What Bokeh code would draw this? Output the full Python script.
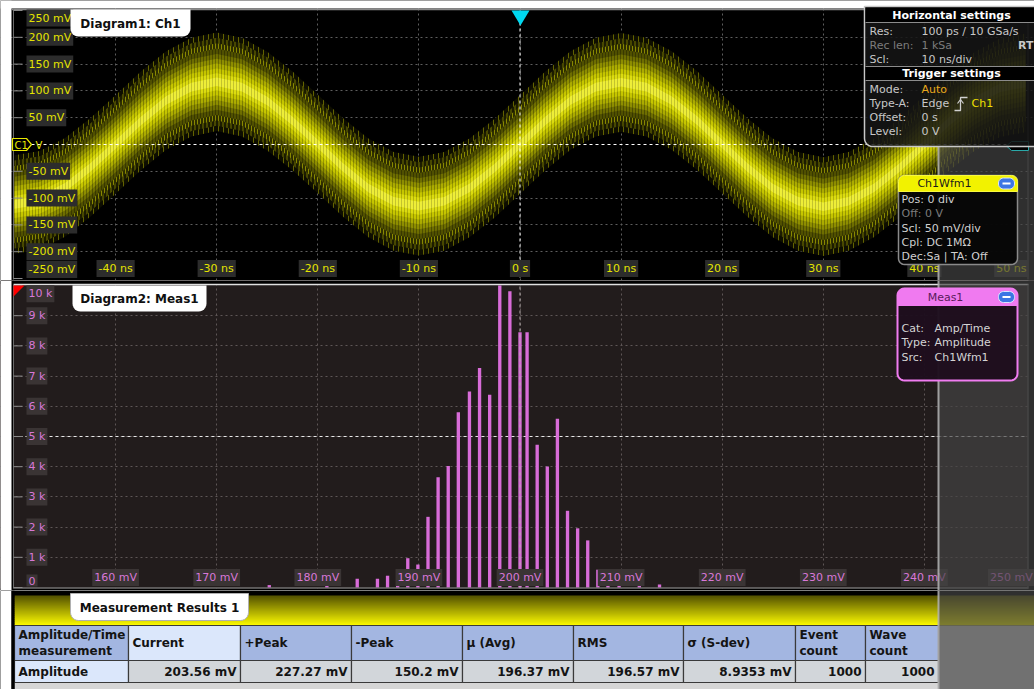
import math
from bokeh.plotting import figure
from bokeh.models import Range1d, Grid, FixedTicker
from bokeh.layouts import column
from bokeh.core.properties import value
from bokeh.embed import file_html
from bokeh.resources import INLINE

# ---------------- data ----------------
wave_t_ns = [-50, -47.5, -45, -42.5, -40, -37.5, -35, -32.5, -30, -27.5,
             -25, -22.5, -20, -17.5, -15, -12.5, -10, -7.5, -5, -2.5,
             0, 2.5, 5, 7.5, 10, 12.5, 15, 17.5, 20, 22.5,
             25, 27.5, 30, 32.5, 35, 37.5, 40, 42.5, 45, 47.5, 50]
wave_center_mv = [-112, -104, -80, -43, 0, 44, 82, 107, 117, 107,
                  81, 44, 1, -43, -81, -106, -115, -106, -81, -44,
                  0, 44, 82, 107, 116, 107, 82, 45, 1, -43,
                  -81, -106, -116, -106, -81, -44, 0, 44, 81, 106, 115]
# half widths of the persistence band: outer spikes ... bright core
wave_spread_mv = [92, 82, 72, 62, 52, 43, 34, 25, 16, 8]

time_ticks_ns = [-40, -30, -20, -10, 0, 10, 20, 30, 40, 50]
time_tick_labels = ["-40 ns", "-30 ns", "-20 ns", "-10 ns", "0 s",
                    "10 ns", "20 ns", "30 ns", "40 ns", "50 ns"]
volt_ticks_mv = [250, 200, 150, 100, 50, -50, -100, -150, -200, -250]
volt_tick_labels = ["250 mV", "200 mV", "150 mV", "100 mV", "50 mV",
                    "-50 mV", "-100 mV", "-150 mV", "-200 mV", "-250 mV"]

hist_mv = [175.2, 180.9, 183.9, 185.9, 186.9, 187.9, 188.9, 189.9, 190.9, 191.9,
           192.9, 193.9, 195.0, 196.0, 197.0, 198.0, 199.0, 200.0, 200.7, 201.7,
           202.7, 203.7, 204.7, 205.7, 206.7, 207.7, 208.7, 209.8, 211.8, 213.8]
hist_count = [80, 60, 290, 290, 390, 290, 970, 760, 2340, 3650,
              4020, 5800, 6490, 7270, 6380, 10000, 9810, 8450, 8450, 4730,
              4010, 5590, 2540, 1960, 1560, 590, 230, 170, 170, 100]
hist_x_ticks_mv = [160, 170, 180, 190, 200, 210, 220, 230, 240, 250]
hist_x_labels = ["160 mV", "170 mV", "180 mV", "190 mV", "200 mV",
                 "210 mV", "220 mV", "230 mV", "240 mV", "250 mV"]
hist_y_ticks = [10000, 9000, 8000, 7000, 6000, 5000, 4000, 3000, 2000, 1000, 0]
hist_y_labels = ["10 k", "9 k", "8 k", "7 k", "6 k", "5 k", "4 k", "3 k", "2 k", "1 k", "0"]

table_headers = ["Amplitude/Time\nmeasurement", "Current", "+Peak", "-Peak", "\u03bc (Avg)",
                 "RMS", "\u03c3 (S-dev)", "Event\ncount", "Wave\ncount"]
table_values = ["Amplitude", "203.56 mV", "227.27 mV", "150.2 mV", "196.37 mV",
                "196.57 mV", "8.9353 mV", "1000", "1000"]

horiz_rows = [("Res:", "100 ps / 10 GSa/s"), ("Rec len:", "1 kSa"), ("Scl:", "10 ns/div")]
trig_rows = [("Mode:", "Auto"), ("Type-A:", "Edge"), ("Offset:", "0 s"), ("Level:", "0 V")]
wfm_rows = ["Pos: 0 div", "Off: 0 V", "Scl: 50 mV/div", "Cpl: DC 1M\u03a9", "Dec:Sa | TA: Off"]
meas_rows = [("Cat:", "Amp/Time"), ("Type:", "Amplitude"), ("Src:", "Ch1Wfm1")]

# ---------------- layout constants ----------------
FONT = value("DejaVu Sans")
W = 1034
H1, H2, H3 = 280, 310, 99
TOP1, TOP2, TOP3 = 0, 280, 590
LEFT = 0


def make_fig(h, xr, yr, bg):
    p = figure(width=W, height=h, x_range=xr, y_range=yr, output_backend="svg",
               toolbar_location=None, x_axis_location=None, y_axis_location=None,
               min_border=0, background_fill_color=bg, border_fill_color=bg,
               outline_line_color=None)
    p.grid.visible = False
    p.extra_x_ranges = {"px": Range1d(0, W)}
    p.extra_y_ranges = {"px": Range1d(h, 0)}
    return p


def T(p, top, x, y, s, color, size="11px", bold=False, align="left", **kw):
    p.text(x=[x - LEFT], y=[y - top], text=[s], x_range_name="px", y_range_name="px",
           text_font=FONT, text_font_size=size, text_color=color, text_align=align,
           text_baseline="middle", text_font_style="bold" if bold else "normal", **kw)


def rr_pts(x0, y0, x1, y1, r, tl=True, tr=True, br=True, bl=True):
    xs, ys = [], []

    def corner(cx, cy, a0, a1, on, qx, qy):
        if not on or r <= 0:
            xs.append(qx); ys.append(qy)
            return
        for i in range(7):
            a = math.radians(a0 + (a1 - a0) * i / 6)
            xs.append(cx + r * math.cos(a)); ys.append(cy + r * math.sin(a))

    corner(x0 + r, y0 + r, 180, 270, tl, x0, y0)
    corner(x1 - r, y0 + r, 270, 360, tr, x1, y0)
    corner(x1 - r, y1 - r, 0, 90, br, x1, y1)
    corner(x0 + r, y1 - r, 90, 180, bl, x0, y1)
    return xs, ys


def RR(p, top, x0, y0, x1, y1, r, fill, line=None, lw=1, alpha=1.0, **corners):
    xs, ys = rr_pts(x0, y0, x1, y1, r, **corners)
    p.patch([x - LEFT for x in xs], [y - top for y in ys], x_range_name="px", y_range_name="px",
            fill_color=fill, fill_alpha=alpha, line_color=line, line_width=lw)


def POLY(p, top, xs, ys, fill, line=None, lw=1):
    p.patch([x - LEFT for x in xs], [y - top for y in ys], x_range_name="px", y_range_name="px",
            fill_color=fill, line_color=line, line_width=lw)


def Q(p, top, x0, y0, x1, y1, fill, alpha=1.0, line=None, lw=1):
    p.quad(left=[x0 - LEFT], right=[x1 - LEFT], top=[y0 - top], bottom=[y1 - top],
           x_range_name="px", y_range_name="px", fill_color=fill, fill_alpha=alpha,
           line_color=line, line_width=lw)


def L(p, top, xs, ys, color, w=1, dash="solid", alpha=1.0):
    p.line([x - LEFT for x in xs], [y - top for y in ys], x_range_name="px", y_range_name="px",
           line_color=color, line_width=w, line_dash=dash, line_alpha=alpha)


def blue_button(p, top, x0, y0):
    RR(p, top, x0, y0, x0 + 16, y0 + 11, 5, "#3d76e4", line="#d8e4ff", lw=1)
    L(p, top, [x0 + 4, x0 + 12], [y0 + 5.5, y0 + 5.5], "#ffffff", w=2)


def overlay(p, top, y0, y1):
    Q(p, top, 938, y0, W, y1, "#444444", alpha=0.69)
    L(p, top, [938, 938], [y0, y1], "#b4b4b4", w=2, alpha=0.85)


# ================= Diagram 1: waveform =================
PX_PER_NS = 10.11
x1_start = -50 - (14 - LEFT) / PX_PER_NS
PX_PER_MV = 26.8 / 50
y1_top = (144 - TOP1) / PX_PER_MV
y1_bot = -(TOP1 + H1 - 144) / PX_PER_MV
p1 = make_fig(H1, Range1d(x1_start, x1_start + W / PX_PER_NS), Range1d(y1_bot, y1_top), "#000000")

p1.add_layout(Grid(dimension=0, ticker=FixedTicker(ticks=[t for t in time_ticks_ns if abs(t) < 50]),
                   grid_line_color="#5e5e5e", grid_line_dash="2 3"))
p1.add_layout(Grid(dimension=1, ticker=FixedTicker(ticks=[v for v in volt_ticks_mv if abs(v) < 250]),
                   grid_line_color="#5e5e5e", grid_line_dash="2 3"))

# persistence band: sparse olive spikes outside, dense bright yellow core
layer_fill = ["#0e0e00", "#1c1c00", "#2e2e00", "#505000", "#6e6e00",
              "#8e8e00", "#acac00", "#c6c600", "#dcdc10", "#eeee38"]
layer_hatch = ["#626200", "#747400", "#888800", "#000000", "#000000",
               "#000000", "#000000", "#000000", "#000000", "#000000"]
layer_hatch_alpha = [1.0, 1.0, 1.0, 0.3, 0.3, 0.28, 0.26, 0.24, 0.2, 0.18]
layer_hatch_scale = [5, 4, 3, 3, 3, 3, 3, 3, 3, 3]
for half, fc, hc, ha, hs in zip(wave_spread_mv, layer_fill, layer_hatch, layer_hatch_alpha, layer_hatch_scale):
    p1.varea(x=wave_t_ns, y1=[c - half for c in wave_center_mv], y2=[c + half for c in wave_center_mv],
             fill_color=fc, hatch_pattern="vertical_line", hatch_color=hc, hatch_alpha=ha,
             hatch_scale=hs, hatch_weight=1)

# reference lines (0 V, 0 s)
p1.line(x=[13, 1027], y=[0, 0], x_range_name="px", line_color="#ffffff", line_dash="3 3", line_width=1)
p1.line(x=[0, 0], y=[10, H1 - 2], y_range_name="px", line_color="#ffffff", line_dash="3 3", line_width=1)

# frame
Q(p1, TOP1, 0, 0, W, 8, "#ffffff")
Q(p1, TOP1, 0, 0, 11, 280, "#ffffff")
L(p1, TOP1, [11, W], [9, 9], "#8a8a8a", w=1.5)
L(p1, TOP1, [13, 13], [9, 279], "#6a6a6a", w=1)
L(p1, TOP1, [1027.5, 1027.5], [9, 279], "#4a4a4a", w=1)

# tick marks + labels
p1.segment(x0=[13 - LEFT] * len(volt_ticks_mv), x1=[22 - LEFT] * len(volt_ticks_mv),
           y0=volt_ticks_mv, y1=volt_ticks_mv, x_range_name="px", line_color="#8a8a8a", line_width=1)
p1.text(x=[26 - LEFT] * len(volt_ticks_mv), y=[min(max(v, -233), 236) for v in volt_ticks_mv],
        text=volt_tick_labels, x_range_name="px", text_font=FONT, text_font_size="11px",
        text_color="#e4e400", text_align="left", text_baseline="middle",
        background_fill_color="#2c2c2c", padding=2)
p1.text(x=[min(t, 48.6) for t in time_ticks_ns], y=[268 - TOP1] * len(time_ticks_ns),
        text=time_tick_labels, y_range_name="px", text_font=FONT, text_font_size="11px",
        text_color="#e4e400", text_align="center", text_baseline="middle",
        background_fill_color="#2c2c2c", padding=2)

# C1 marker
POLY(p1, TOP1, [12, 26, 31, 26, 12], [138, 138, 144, 150, 150], "#000000", line="#e8e800", lw=1.2)
T(p1, TOP1, 14, 144.5, "C1", "#e8e800", size="10px")
T(p1, TOP1, 35, 144.5, "V", "#e8e800", size="10px")

# diagram tab
RR(p1, TOP1, 70, 9, 190, 36, 8, "#ffffff", tl=False, tr=False)
T(p1, TOP1, 130, 23, "Diagram1: Ch1", "#101010", size="12px", bold=True, align="center")

# trigger position marker
POLY(p1, TOP1, [511, 529, 520], [10, 10, 25], "#00d8f0")

# right-hand side panel overlay
overlay(p1, TOP1, 146, 280)
POLY(p1, TOP1, [1011, 1028, 1028, 1011, 1006], [141, 141, 150, 150, 145.5], "#000000", line="#2aa8a8", lw=1)

# Horizontal / trigger settings box
RR(p1, TOP1, 864, 6, 1045, 146, 8, "#151515", line="#c8c8c8", lw=1.5, alpha=0.86, tl=False, tr=False, br=False)
Q(p1, TOP1, 865, 7, W, 22, "#000000")
Q(p1, TOP1, 865, 66, W, 80, "#000000")
for yy in (22, 66, 80):
    L(p1, TOP1, [865, W], [yy, yy], "#8c8c8c", w=1)
T(p1, TOP1, 951, 15, "Horizontal settings", "#ffffff", bold=True, align="center")
T(p1, TOP1, 951, 73, "Trigger settings", "#ffffff", bold=True, align="center")
row_y = [31, 45, 59]
for (lab, val), yy in zip(horiz_rows, row_y):
    col = "#7c7c7c" if lab.startswith("Rec") else "#c8c8c8"
    T(p1, TOP1, 869, yy, lab, col)
    T(p1, TOP1, 921, yy, val, col)
T(p1, TOP1, 1033, 45, "RT", "#c8c8c8", bold=True, align="right")
trig_y = [89, 103, 117, 131]
for (lab, val), yy in zip(trig_rows, trig_y):
    T(p1, TOP1, 869, yy, lab, "#c8c8c8")
    T(p1, TOP1, 921, yy, val, "#e8a81c" if val == "Auto" else "#c8c8c8")
L(p1, TOP1, [954, 960, 960, 967], [110, 110, 97, 97], "#d0d0d0", w=1.3)
L(p1, TOP1, [957, 960, 963], [103, 99, 103], "#d0d0d0", w=1.2)
T(p1, TOP1, 971, 103, "Ch1", "#f0e000")

# Ch1Wfm1 box
RR(p1, TOP1, 898, 175, 1017, 264, 6, "#050505", line="#8a8a8a", lw=1.5, alpha=0.95)
RR(p1, TOP1, 898, 175, 1017, 191, 6, "#f2f200", line="#f8f840", lw=1, bl=False, br=False)
T(p1, TOP1, 944, 183, "Ch1Wfm1", "#1a1a1a", align="center")
blue_button(p1, TOP1, 998, 177.5)
wfm_y = [199, 213, 228, 242, 256]
for s, yy in zip(wfm_rows, wfm_y):
    T(p1, TOP1, 901, yy, s, "#7c7c7c" if s.startswith("Off") else "#d0d0d0")

# ================= Diagram 2: histogram =================
PX_PER_MVH = 10.11
x2_start = 150 - (14 - LEFT) / PX_PER_MVH
PX_PER_CNT = 30.2 / 1000
y2_top = (587 - TOP2) / PX_PER_CNT
y2_bot = -(TOP2 + H2 - 587) / PX_PER_CNT
p2 = make_fig(H2, Range1d(x2_start, x2_start + W / PX_PER_MVH), Range1d(y2_bot, y2_top), "#221c1c")

p2.add_layout(Grid(dimension=0, ticker=FixedTicker(ticks=[v for v in hist_x_ticks_mv if v < 250]),
                   grid_line_color="#5e5656", grid_line_dash="2 3"))
p2.add_layout(Grid(dimension=1, ticker=FixedTicker(ticks=[c for c in hist_y_ticks if 0 < c < 10000]),
                   grid_line_color="#5e5656", grid_line_dash="2 3"))

p2.line(x=[13, 1027], y=[5000, 5000], x_range_name="px", line_color="#e8e8e8", line_dash="3 3", line_width=1)

p2.vbar(x=hist_mv, top=hist_count, bottom=0, width=0.33, fill_color="#d86cd8", line_color=None)

p2.line(x=[200, 200], y=[0, H2], y_range_name="px", line_color="#b8b0b0", line_dash="3 3", line_width=1)

# frame
Q(p2, TOP2, 0, 280, W, 283.5, "#000000")
L(p2, TOP2, [11, W], [284, 284], "#e0e0e0", w=1.5)
Q(p2, TOP2, 0, 588, W, 590, "#000000")
L(p2, TOP2, [11, W], [587.5, 587.5], "#9a9a9a", w=1)
Q(p2, TOP2, 0, 280, 13, 590, "#000000")
Q(p2, TOP2, 1028, 280, W, 590, "#000000")
Q(p2, TOP2, 0, 280, 11, 590, "#ffffff")
L(p2, TOP2, [13, 13], [284, 588], "#6a6a6a", w=1)
L(p2, TOP2, [1027.5, 1027.5], [284, 588], "#5a5a5a", w=1)

p2.segment(x0=[13 - LEFT] * len(hist_y_ticks), x1=[22 - LEFT] * len(hist_y_ticks),
           y0=hist_y_ticks, y1=hist_y_ticks, x_range_name="px", line_color="#8a8a8a", line_width=1)
p2.text(x=[26 - LEFT] * len(hist_y_ticks), y=[min(max(c, 230), 9730) for c in hist_y_ticks],
        text=hist_y_labels, x_range_name="px", text_font=FONT, text_font_size="11px",
        text_color="#d878d8", text_align="left", text_baseline="middle",
        background_fill_color="#3a3434", padding=2)
p2.text(x=[min(v, 248.6) for v in hist_x_ticks_mv], y=[577 - TOP2] * len(hist_x_ticks_mv),
        text=hist_x_labels, y_range_name="px", text_font=FONT, text_font_size="11px",
        text_color="#d878d8", text_align="center", text_baseline="middle",
        background_fill_color="#3a3434", padding=2)

RR(p2, TOP2, 72, 285, 206, 311, 8, "#ffffff", tl=False, tr=False)
T(p2, TOP2, 139, 298.5, "Diagram2: Meas1", "#101010", size="12px", bold=True, align="center")
POLY(p2, TOP2, [13, 24, 13], [285, 285, 296], "#ff0000")

overlay(p2, TOP2, 280, 590)

# Meas1 box
RR(p2, TOP2, 897, 288, 1017, 380, 7, "#1e0e1e", line="#f07cf0", lw=2, alpha=0.97)
RR(p2, TOP2, 897, 288, 1017, 305, 7, "#f07af0", line="#f07cf0", lw=1, bl=False, br=False)
T(p2, TOP2, 945, 296.5, "Meas1", "#5a1a5a", align="center")
blue_button(p2, TOP2, 998, 291)
meas_y = [328, 342, 357]
for (lab, val), yy in zip(meas_rows, meas_y):
    T(p2, TOP2, 901, yy, lab, "#d4d4d4")
    T(p2, TOP2, 934, yy, val, "#d4d4d4")

# ================= Measurement results table =================
p3 = make_fig(H3, Range1d(0, W), Range1d(H3, 0), "#000000")
Q(p3, TOP3, 0, 590, 11, 689, "#ffffff")

# yellow title bar (vertical gradient, overlapping strips so no seams show)
n_strips = 15
for i in range(n_strips):
    f = i / (n_strips - 1)
    r = int(88 + (248 - 88) * f)
    g = int(86 + (246 - 86) * f)
    Q(p3, TOP3, 14, 595 + 2 * i, W, 598.5 + 2 * i if i < n_strips - 1 else 625,
      "#%02x%02x%02x" % (r, g, 0))

RR(p3, TOP3, 70, 593, 248, 620, 8, "#ffffff", line="#b0b0b0", lw=1, tl=False, tr=False)
T(p3, TOP3, 159, 607, "Measurement Results 1", "#101010", size="12px", bold=True, align="center")

col_edges = [14, 128, 240, 351, 462, 573, 683, 795, 865, 938]
HDR0, HDR1, ROW1 = 625, 660, 682
Q(p3, TOP3, 938, 625, W, 689, "#d6d6d6")
Q(p3, TOP3, 14, 682, 938, 689, "#d6d6d6")
for i, (hdr, val) in enumerate(zip(table_headers, table_values)):
    x0, x1 = col_edges[i], col_edges[i + 1]
    hfill = "#dbe7fb" if i == 1 else "#a3b6e1"
    vfill = "#dbe7fb" if i == 0 else "#d2d6da"
    Q(p3, TOP3, x0, HDR0, x1, HDR1, hfill, line="#3a3a3a", lw=1.2)
    Q(p3, TOP3, x0, HDR1, x1, ROW1, vfill, line="#3a3a3a", lw=1.2)
    lines = hdr.split("\n")
    if len(lines) == 1:
        T(p3, TOP3, x0 + 4, (HDR0 + HDR1) / 2, lines[0], "#141414", size="12px", bold=True)
    else:
        T(p3, TOP3, x0 + 4, (HDR0 + HDR1) / 2 - 8, lines[0], "#141414", size="12px", bold=True)
        T(p3, TOP3, x0 + 4, (HDR0 + HDR1) / 2 + 8, lines[1], "#141414", size="12px", bold=True)
    if i == 0:
        T(p3, TOP3, x0 + 4, (HDR1 + ROW1) / 2, val, "#141414", size="12px", bold=True)
    else:
        T(p3, TOP3, x1 - 4, (HDR1 + ROW1) / 2, val, "#141414", size="12px", bold=True, align="right")
Q(p3, TOP3, 11, 590, 14, 689, "#000000")

overlay(p3, TOP3, 590, 689)

layout = column(p1, p2, p3, spacing=0)
open("out.html", "w").write(file_html(layout, INLINE))
